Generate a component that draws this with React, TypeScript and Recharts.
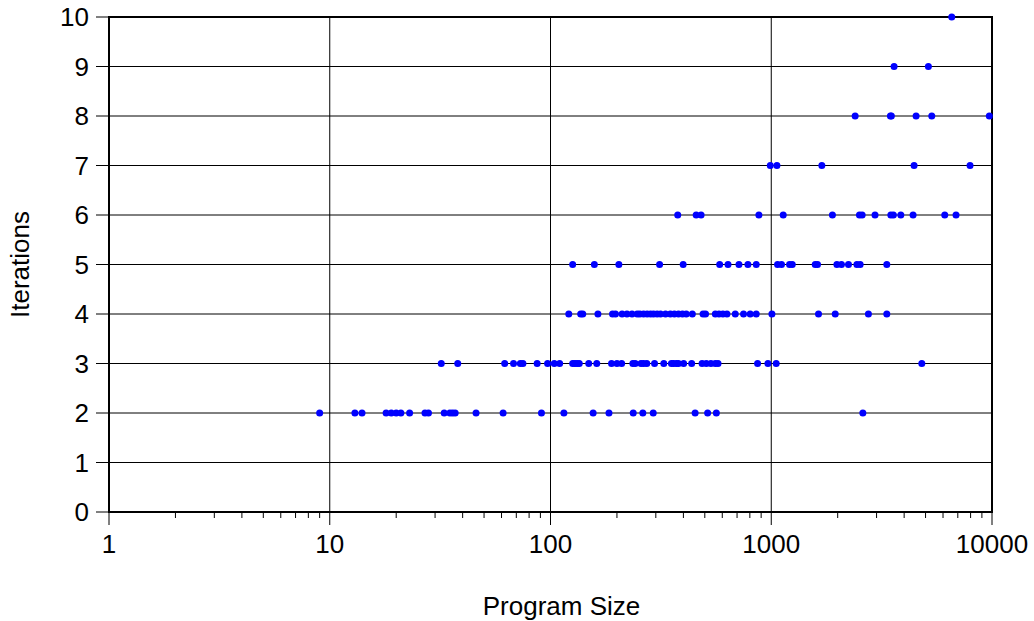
import React from 'react';
import {
  ScatterChart,
  Scatter,
  XAxis,
  YAxis,
  CartesianGrid,
  ReferenceLine,
  ReferenceArea,
  Label,
} from 'recharts';

// Program sizes observed at each iteration count
const iter2 = [9, 13, 14, 18, 19, 20, 21, 23, 27, 28, 33, 35, 36, 37, 46, 61, 91, 115, 156, 184, 237, 262, 292, 452, 515, 564, 2600];
const iter3 = [32, 38, 62, 68, 73, 75, 87, 97, 104, 110, 126, 129, 132, 135, 149, 162, 189, 200, 210, 236, 242, 257, 264, 273, 296, 326, 353, 361, 372, 380, 401, 436, 486, 508, 533, 558, 574, 867, 966, 1053, 4808];
const iter4 = [121, 137, 140, 164, 191, 197, 211, 222, 234, 247, 254, 264, 274, 284, 293, 304, 315, 332, 349, 364, 380, 396, 412, 439, 491, 504, 558, 580, 604, 630, 687, 749, 803, 855, 1007, 1637, 1949, 2755, 3338];
const iter5 = [126, 158, 204, 312, 399, 584, 637, 714, 784, 855, 1068, 1113, 1210, 1245, 1582, 1620, 1983, 2080, 2238, 2443, 2528, 3338];
const iter6 = [377, 457, 481, 879, 1133, 1893, 2509, 2581, 2952, 3481, 3575, 3863, 4390, 6109, 6871];
const iter7 = [990, 1061, 1695, 4436, 7953];
const iter8 = [2399, 3466, 3500, 4530, 5335, 9724];
const iter9 = [3601, 5150];
const iter10 = [6571];

const iterationLevels: [number, number[]][] = [
  [2, iter2],
  [3, iter3],
  [4, iter4],
  [5, iter5],
  [6, iter6],
  [7, iter7],
  [8, iter8],
  [9, iter9],
  [10, iter10],
];

const points = iterationLevels.flatMap(([iterations, sizes]) =>
  sizes.map((size) => ({ size, iterations }))
);

const majorXTicks = [1, 10, 100, 1000, 10000];
const minorMultipliers = [2, 3, 4, 5, 6, 7, 8, 9];
const minorXTicks = majorXTicks.slice(0, -1).flatMap((d) => minorMultipliers.map((m) => d * m));
const allXTicks = [...majorXTicks, ...minorXTicks].sort((a, b) => a - b);
const innerDecades = [10, 100, 1000];
const yTicks = [0, 1, 2, 3, 4, 5, 6, 7, 8, 9, 10];

const FONT = '"Liberation Sans", Arial, Helvetica, sans-serif';
const FS = 26;

const XTick = (props: any) => {
  const { x, y, payload } = props;
  const v = payload.value;
  const isMajor = majorXTicks.includes(v);
  return (
    <g>
      <line x1={x} x2={x} y1={y} y2={y + (isMajor ? 13 : 6)} stroke="#000" strokeWidth={1} />
      {isMajor && (
        <text x={x} y={y + 41} textAnchor="middle" fontSize={FS} fontFamily={FONT} fill="#000">
          {v}
        </text>
      )}
    </g>
  );
};

export default function App() {
  return (
    <div style={{ position: 'absolute', left: 0, top: 0, width: 1034, height: 621, background: '#fff' }}>
      <ScatterChart
        width={1034}
        height={621}
        margin={{ top: 17, right: 42, bottom: 0, left: 0 }}
        style={{ fontFamily: FONT }}
      >
        <CartesianGrid horizontal={true} vertical={false} stroke="#000" strokeWidth={1} />
        <XAxis
          type="number"
          dataKey="size"
          scale="log"
          domain={[1, 10000]}
          ticks={allXTicks}
          interval={0}
          height={109}
          tickSize={0}
          tickMargin={0}
          tickLine={false}
          axisLine={false}
          tick={<XTick />}
        >
          <Label
            content={(p: any) => {
              const vb = p.viewBox;
              return (
                <text
                  x={vb.x + vb.width / 2 + 11}
                  y={vb.y + 103}
                  textAnchor="middle"
                  fontSize={FS}
                  fontFamily={FONT}
                  fill="#000"
                >
                  Program Size
                </text>
              );
            }}
          />
        </XAxis>
        <YAxis
          type="number"
          dataKey="iterations"
          domain={[0, 10]}
          ticks={yTicks}
          interval={0}
          width={109}
          tickSize={13}
          tickMargin={7}
          tickLine={{ stroke: '#000' }}
          axisLine={false}
          tick={{ fontSize: FS, fill: '#000', fontFamily: FONT }}
        >
          <Label
            content={(p: any) => {
              const vb = p.viewBox;
              const cy = vb.y + vb.height / 2;
              return (
                <text
                  x={29}
                  y={cy}
                  transform={`rotate(-90 29 ${cy})`}
                  textAnchor="middle"
                  fontSize={FS}
                  fontFamily={FONT}
                  fill="#000"
                >
                  Iterations
                </text>
              );
            }}
          />
        </YAxis>
        {innerDecades.map((d) => (
          <ReferenceLine key={d} x={d} stroke="#000" strokeWidth={1} />
        ))}
        <ReferenceArea
          x1={1}
          x2={10000}
          y1={0}
          y2={10}
          fill="none"
          fillOpacity={0}
          stroke="#000"
          strokeWidth={2}
        />
        <Scatter
          data={points}
          isAnimationActive={false}
          shape={(p: any) => <circle cx={p.cx} cy={p.cy} r={3.5} fill="#0000ff" />}
        />
      </ScatterChart>
    </div>
  );
}
